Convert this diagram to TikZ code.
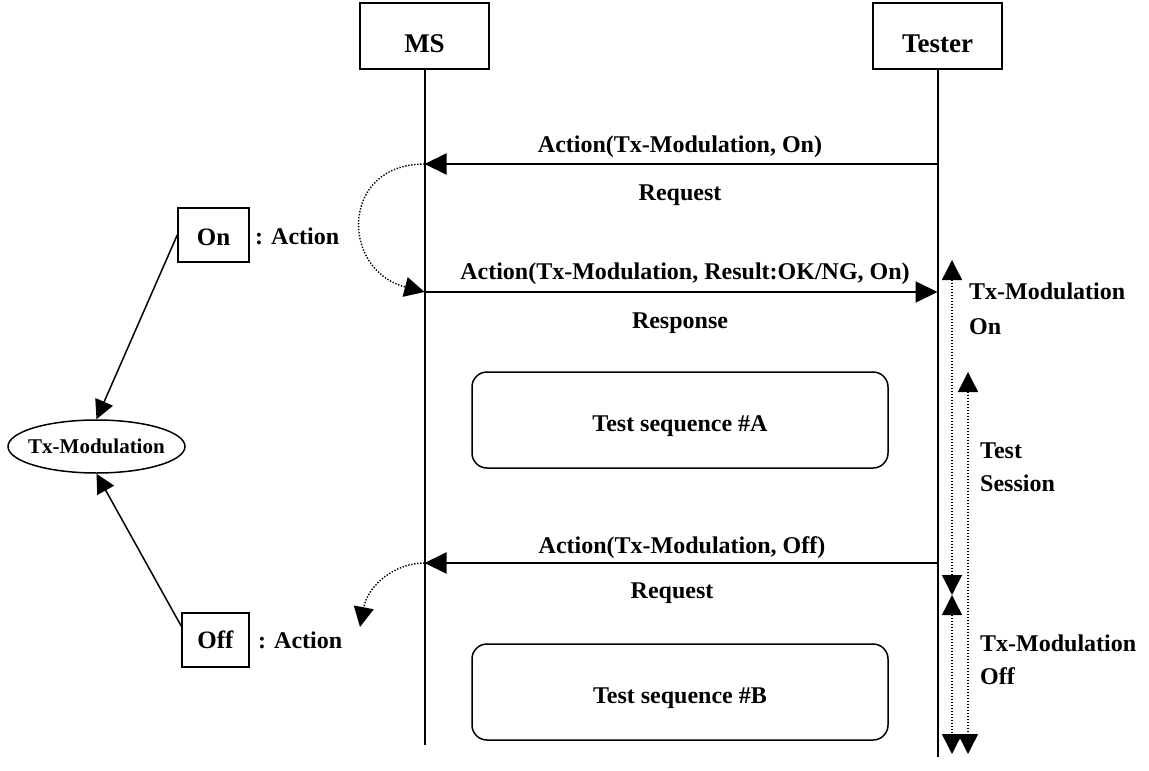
\documentclass[tikz,border=0pt]{standalone}
\usepackage{fontspec}
\setmainfont{Liberation Serif}
\usetikzlibrary{arrows.meta,shapes.geometric}

\begin{document}
\begin{tikzpicture}[x=1pt,y=-1pt,
  txt/.style={font=\fontsize{24}{28}\selectfont\bfseries, inner sep=0pt},
  headbox/.style={draw, line width=2pt, inner sep=0pt, minimum width=129pt,
    text height=49pt, text depth=17pt, anchor=base,
    font=\fontsize{27}{30}\selectfont\bfseries},
  seqbox/.style={draw, line width=1.5pt, rounded corners=15pt, inner sep=0pt,
    minimum width=416pt, text height=59pt, text depth=37pt, anchor=base,
    font=\fontsize{24}{28}\selectfont\bfseries},
  actbox/.style={draw, line width=1.5pt, inner sep=0pt, anchor=base,
    font=\fontsize{25}{28}\selectfont\bfseries},
  lifeline/.style={line width=2pt},
  msg/.style={line width=2pt, -{Triangle[length=22pt,width=21pt]}},
  link/.style={line width=1.5pt, -{Triangle[length=19pt,width=19pt]}},
  dots/.style={line width=1.4pt, dash pattern=on 1.4pt off 1.6pt},
  span/.style={dots, {Triangle[length=20pt,width=20pt]}-{Triangle[length=20pt,width=20pt]}},
]
\useasboundingbox (0,0) rectangle (1149,771);

% lifeline heads
\node[headbox] (ms) at (424.5,52) {MS};
\node[headbox] (tester) at (937.5,52) {Tester};
\coordinate (msEnd) at (424.5,745);
\coordinate (tEnd) at (937.5,757);
\draw[lifeline] (ms.south) -- (msEnd);
\draw[lifeline] (tester.south) -- (tEnd);

% message end points on the lifelines
\coordinate (t1) at (937.5,164); \coordinate (m1) at (424.5,164);
\coordinate (m2) at (424.5,292); \coordinate (t2) at (937.5,292);
\coordinate (t3) at (937.5,563); \coordinate (m3) at (424.5,563);

% messages
\draw[msg] (t1) -- (m1);
\node[txt, anchor=base] (l1) at (680,152) {Action(Tx-Modulation, On)};
\node[txt, anchor=base] (r1) at (680,200) {Request};

\draw[msg] (m2) -- (t2);
\node[txt, anchor=base] (l2) at (685,279) {Action(Tx-Modulation, Result:OK/NG, On)};
\node[txt, anchor=base] (r2) at (680,328) {Response};

\draw[msg] (t3) -- (m3);
\node[txt, anchor=base] (l3) at (682,553) {Action(Tx-Modulation, Off)};
\node[txt, anchor=base] (r3) at (672,598) {Request};

% local action loops at MS
\draw[dots, -{Triangle[length=20pt,width=20pt]}] (m1) .. controls (340,164) and (340,270) .. (m2);
\coordinate (offtip) at (360,627);
\draw[dots, -{Triangle[length=20pt,width=20pt]}] (m3) .. controls (395,563) and (368,585) .. (offtip);

% test sequences
\node[seqbox] (seqA) at (680,431) {Test sequence \#A};
\node[seqbox] (seqB) at (680,703) {Test sequence \#B};

% action state model
\node[actbox, minimum width=71pt, text height=37pt, text depth=17pt] (onbox) at (213.5,245) {On};
\node[actbox, minimum width=67pt, text height=35pt, text depth=19pt] (offbox) at (215.5,648) {Off};
\node[txt, anchor=base west] (onact) at (255,244) {: Action};
\node[txt, anchor=base west] (offact) at (258,648) {: Action};
\node[draw, ellipse, line width=1.5pt, inner sep=0pt, minimum width=177pt, minimum height=53pt] (ell) at (96.5,446.5) {};
\node[font=\fontsize{21}{24}\selectfont\bfseries, inner sep=0pt] (elltxt) at (ell.center) {Tx-Modulation};
\draw[link] (onbox.west) -- (ell.north);
\draw[link] (offbox.158) -- (ell.south);

% state periods at the tester
\coordinate (aTop) at (952,260); \coordinate (aMid) at (952,595); \coordinate (aBot) at (952,754);
\coordinate (bTop) at (968,372); \coordinate (bBot) at (968,754);
\draw[span] (aTop) -- (aMid);
\draw[span] (aMid) -- (aBot);
\draw[span] (bTop) -- (bBot);

\node[txt, anchor=base west] (onL1) at (969,299) {Tx-Modulation};
\node[txt, anchor=base west] (onL2) at (969,334) {On};
\node[txt, anchor=base west] (tsL1) at (980,458) {Test};
\node[txt, anchor=base west] (tsL2) at (980,491) {Session};
\node[txt, anchor=base west] (offL1) at (980,651) {Tx-Modulation};
\node[txt, anchor=base west] (offL2) at (980,684) {Off};
\end{tikzpicture}
\end{document}
